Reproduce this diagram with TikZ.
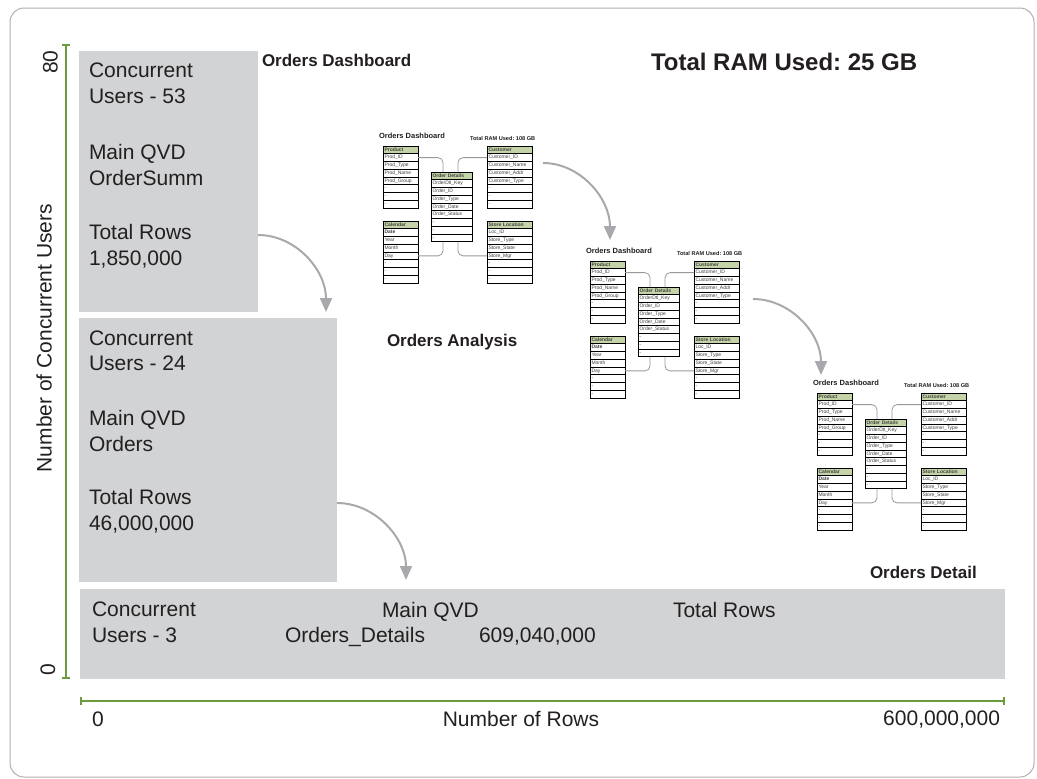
\documentclass[tikz,border=0pt]{standalone}
\usepackage{fontspec}
\setmainfont{Liberation Sans}
\usetikzlibrary{positioning,arrows.meta}
\definecolor{boxgray}{RGB}{209,211,212}
\definecolor{inkgray}{RGB}{35,31,32}
\definecolor{flowgray}{RGB}{167,169,172}
\definecolor{axisgreen}{RGB}{106,156,62}
\definecolor{headgreen}{RGB}{197,212,168}
\definecolor{framegray}{RGB}{175,175,175}

\begin{document}
\begin{tikzpicture}[x=1pt,y=-1pt,
    every node/.style={inner sep=0pt,outer sep=0pt,text=inkgray},
    band/.style={fill=boxgray,anchor=north west},
    big/.style={font=\fontsize{21}{25.5}\selectfont,align=left,anchor=north west},
    title/.style={font=\bfseries\fontsize{17}{20}\selectfont,anchor=base west},
    flow/.style={draw=flowgray,line width=2pt,-{Triangle[width=12pt,length=14pt,fill=flowgray]}},
    axis/.style={draw=axisgreen,line width=1.6pt,{Bar[width=8pt]}-{Bar[width=8pt]}},
    cell/.style={draw=black,line width=0.6pt,fill=white,anchor=north west,
      minimum height=7.75pt,text height=3.6pt,text depth=1pt,inner xsep=1.5pt,
      align=left,font=\fontsize{5}{6}\selectfont,text=black!75},
    headcell/.style={cell,fill=headgreen,font=\bfseries\fontsize{5}{6}\selectfont},
    link/.style={draw=black!40,line width=0.8pt,rounded corners=5pt},
    schema/.pic={
      \node[font=\bfseries\fontsize{7.5}{9}\selectfont,anchor=west] (-title) at (-4,-10) {Orders Dashboard};
      \node[font=\bfseries\fontsize{5.6}{7}\selectfont,anchor=west] (-ram) at (87,-8) {Total RAM Used:\ 108 GB};
      \foreach \key/\head/\x/\y/\tw/\rows in {
          prod/Product/0/0/32/{Prod\_ID,Prod\_Type,Prod\_Name,Prod\_Group,-,-,-},
          ord/Order Details/48/26/38/{OrderDtl\_Key,Order\_ID,Order\_Type,Order\_Date,Order\_Status,-,-,-},
          cust/Customer/104/0/42/{Customer\_ID,Customer\_Name,Customer\_Addr,Customer\_Type,-,-,-},
          cal/Calendar/0/75/32/{\textbf{Date},Year,Month,Day,-,-,-},
          store/Store Location/104/75/42/{Loc\_ID,Store\_Type,Store\_State,Store\_Mgr,-,-,-}}{
        \node[headcell,text width=\tw pt] (-\key-0) at (\x,\y) {\head};
        \foreach \r [count=\i] in \rows
          \node[cell,text width=\tw pt] (-\key-\i) at (\x,\y+7.75*\i) {\r};
      }
      \draw[link] (-prod-1.east) -| (60,26);
      \draw[link] (-cust-1.west) -| (75,26);
      \draw[link] (-cal-4.east) -| (60,95.75);
      \draw[link] (-store-4.west) -| (75,95.75);
    }]
  \useasboundingbox (0,0) rectangle (1037,779);
  \draw[framegray,line width=1pt,rounded corners=14pt] (10,8) rectangle (1034,777);

  % grey bands, one per source
  \node[band,minimum width=179pt,minimum height=261pt] (top) at (79,51) {};
  \node[band,minimum width=258pt,minimum height=264pt] (mid) at (79,318) {};
  \node[band,minimum width=925pt,minimum height=90pt] (low) at (80,589) {};

  \node[big] (tuc) at (89,63) {Concurrent\\Users - 53};
  \node[big] (tuq) at (89,144.5) {Main QVD\\OrderSumm};
  \node[big] (tur) at (89,224.5) {Total Rows\\1,850,000};

  \node[big] (muc) at (89,330.5) {Concurrent\\Users - 24};
  \node[big] (muq) at (89,410.5) {Main QVD\\Orders};
  \node[big] (mur) at (89,489.5) {Total Rows\\46,000,000};

  \node[big] (luc) at (92,602) {Concurrent\\Users - 3};
  \node[big] (luq) at (382,602) {Main QVD};
  \node[big] (lud) at (285,627.5) {Orders\_Details};
  \node[big] (lun) at (479,627.5) {609,040,000};
  \node[big] (lur) at (673,602) {Total Rows};

  % axes
  \coordinate (ytop) at (66,44);
  \coordinate (ybot) at (66,679);
  \coordinate (xlft) at (80,701);
  \coordinate (xrgt) at (1005,701);
  \draw[axis] (ybot) -- (ytop);
  \draw[axis] (xlft) -- (xrgt);
  \node[font=\fontsize{21}{25}\selectfont,rotate=90] (ylab) at (44,338) {Number of Concurrent Users};
  \node[font=\fontsize{21}{25}\selectfont,rotate=90] (ymax) at (50.5,62) {80};
  \node[font=\fontsize{21}{25}\selectfont,rotate=90] (ymin) at (48,670) {0};
  \node[font=\fontsize{21}{25}\selectfont,anchor=base west] (xmin) at (92,726) {0};
  \node[font=\fontsize{21}{25}\selectfont,anchor=base] (xlab) at (521,726) {Number of Rows};
  \node[font=\fontsize{21}{25}\selectfont,anchor=base east] (xmax) at (1000,725) {600,000,000};

  % titles
  \node[title] (dash) at (262,66) {Orders Dashboard};
  \node[font=\bfseries\fontsize{24}{28}\selectfont,anchor=base west] (ram) at (651,70.5) {Total RAM Used:\ 25 GB};
  \node[title] (anl) at (387,346) {Orders Analysis};
  \node[title] (dtl) at (870,578) {Orders Detail};

  % the three data models
  \pic (sa) at (383,146) {schema};
  \pic (sb) at (590,261) {schema};
  \pic (sc) at (817,393) {schema};

  % flow arrows
  \coordinate (f1s) at (258,235);
  \coordinate (f1e) at (326,312);
  \coordinate (f2s) at (337,503);
  \coordinate (f2e) at (406,580);
  \coordinate (f3s) at (543,163);
  \coordinate (f3e) at (610,240);
  \coordinate (f4s) at (753,299);
  \coordinate (f4e) at (821,375);
  \draw[flow] (f1s) .. controls +(38,0) and +(0,-42) .. (f1e);
  \draw[flow] (f2s) .. controls +(38,0) and +(0,-42) .. (f2e);
  \draw[flow] (f3s) .. controls +(37,0) and +(0,-42) .. (f3e);
  \draw[flow] (f4s) .. controls +(37,0) and +(0,-42) .. (f4e);
\end{tikzpicture}
\end{document}
